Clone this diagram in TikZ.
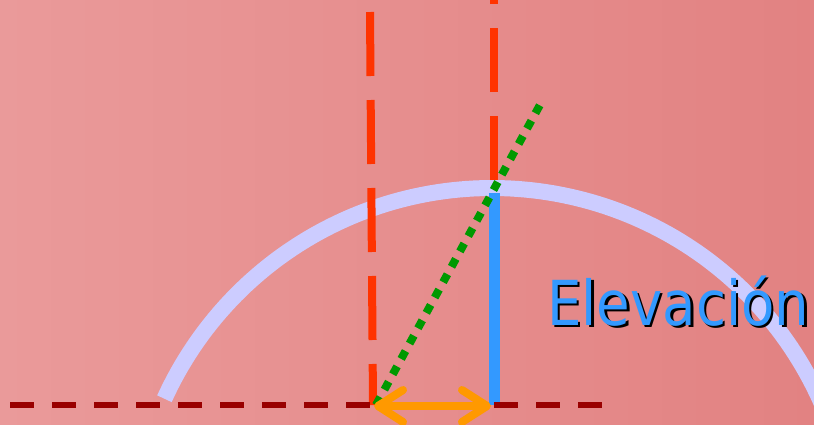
\documentclass[tikz,border=0pt]{standalone}
\usepackage{fontspec}
\usepackage{graphicx}
\usetikzlibrary{arrows.meta}
\newfontfamily\labelfont{DejaVu Sans}
\definecolor{bgleft}{RGB}{234,154,154}
\definecolor{bgright}{RGB}{226,130,130}
\definecolor{arclav}{RGB}{204,204,255}
\definecolor{redline}{RGB}{255,51,0}
\definecolor{elevblue}{RGB}{51,153,255}
\definecolor{dotgreen}{RGB}{0,153,0}
\definecolor{groundred}{RGB}{153,0,0}
\definecolor{arroworange}{RGB}{255,153,0}
\newcommand{\elevword}{\scalebox{0.88}[1]{Elevación}}
\tikzset{
  redvert/.style={draw=redline, line width=8pt, dash pattern=on 64pt off 24pt},
  arcband/.style={draw=arclav, line width=16pt},
  elevline/.style={draw=elevblue, line width=11pt},
  greendots/.style={draw=dotgreen, line width=8pt, dash pattern=on 9pt off 8.5pt},
  ground/.style={draw=groundred, line width=6pt, dash pattern=on 24pt off 18pt},
  orangearrow/.style={draw=arroworange, line width=8pt,
    {Straight Barb[length=25pt,width=32pt,round]}-{Straight Barb[length=25pt,width=32pt,round]}},
  labeltext/.style={anchor=base west, inner sep=0pt, font=\labelfont\fontsize{62}{62}\selectfont}
}
\begin{document}
\begin{tikzpicture}[x=1pt,y=-1pt]
\useasboundingbox (0,0) rectangle (814,424);
\shade[left color=bgleft, right color=bgright] (0,0) rectangle (814,424);
\clip (0,0) rectangle (814,424);
% coordinates
\coordinate (redLtop) at (370,12);
\coordinate (redLbot) at (373,405);
\coordinate (redRbot) at (494,180);
\coordinate (redRtop) at (494,-80);
\coordinate (blueTop) at (494,193);
\coordinate (blueBot) at (494,405);
\coordinate (greenBot) at (376,405);
\coordinate (greenTop) at (541,103);
\coordinate (groundA) at (10,405);
\coordinate (groundB) at (372,405);
\coordinate (groundC) at (494,405);
\coordinate (groundD) at (603,405);
\coordinate (arrowL) at (374,406);
\coordinate (arrowR) at (491,406);
% arc (circle centre (492,548), radius 360)
\draw[arcband] plot[domain=155.5:15, samples=120] ({492+360*cos(\x)}, {548-360*sin(\x)});
% red vertical dashed lines
\draw[redvert] (redLtop) -- (redLbot);
\draw[redvert] (redRbot) -- (redRtop);
% blue elevation line
\draw[elevline] (blueTop) -- (blueBot);
% ground dashed line
\draw[ground] (groundA) -- (groundB);
\draw[ground] (groundC) -- (groundD);
% green dotted line
\draw[greendots] (greenBot) -- (greenTop);
% orange double arrow
\draw[orangearrow] (arrowL) -- (arrowR);
% label with shadow
\node[labeltext] (elevlabel) at (547,325) {\makebox[0pt][l]{\hspace{2.5pt}\raisebox{-2.5pt}{\color{black}\elevword}}\textcolor{elevblue}{\elevword}};
\end{tikzpicture}
\end{document}
